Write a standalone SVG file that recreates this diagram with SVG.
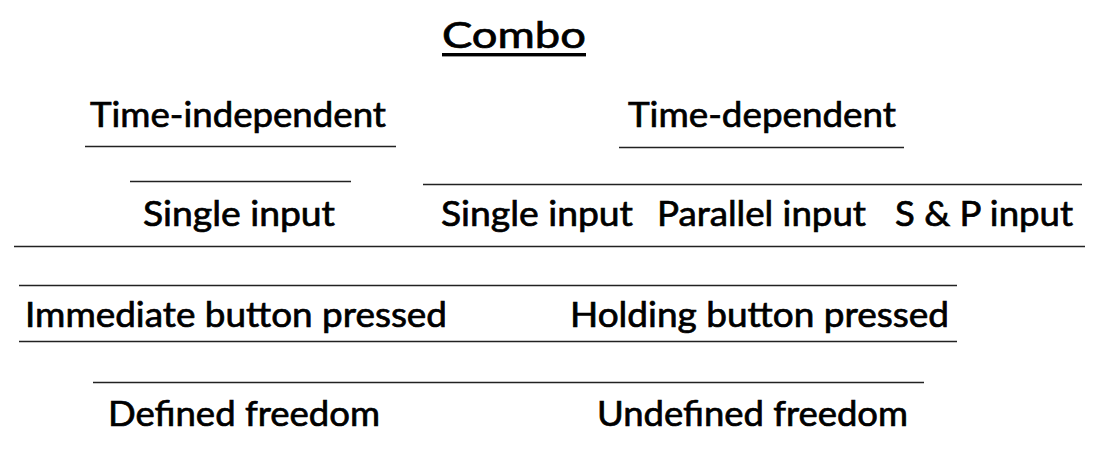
<svg xmlns="http://www.w3.org/2000/svg" width="1099" height="457" viewBox="0 0 1099 457">
<style>
.t{font-family:Lato,"Liberation Sans",sans-serif;font-size:35px;fill:#000;stroke:#000;stroke-width:0.7;}
.h{font-size:37px;}
.r{stroke:#222;stroke-width:1.4;fill:none;}
</style>
<rect width="1099" height="457" fill="#fff"/>
<g id="title">
<text class="t h" x="442" y="48" textLength="144" lengthAdjust="spacingAndGlyphs">Combo</text>
<rect x="442" y="53" width="144" height="3.4" fill="#000"/>
</g>
<g id="time-independent"><text class="t" x="90" y="127" textLength="296" lengthAdjust="spacingAndGlyphs">Time-independent</text></g>
<g id="time-dependent"><text class="t" x="628" y="127" textLength="268" lengthAdjust="spacingAndGlyphs">Time-dependent</text></g>
<g id="single-input-1"><text class="t" x="143" y="226" textLength="192" lengthAdjust="spacingAndGlyphs">Single input</text></g>
<g id="single-input-2"><text class="t" x="441" y="226" textLength="192" lengthAdjust="spacingAndGlyphs">Single input</text></g>
<g id="parallel-input"><text class="t" x="657" y="226" textLength="209" lengthAdjust="spacingAndGlyphs">Parallel input</text></g>
<g id="sp-input"><text class="t" x="895" y="226" textLength="178" lengthAdjust="spacingAndGlyphs">S &amp; P input</text></g>
<g id="immediate"><text class="t" x="25" y="327" textLength="422" lengthAdjust="spacingAndGlyphs">Immediate button pressed</text></g>
<g id="holding"><text class="t" x="570" y="327" textLength="379" lengthAdjust="spacingAndGlyphs">Holding button pressed</text></g>
<g id="defined"><text class="t" x="108" y="426" textLength="272" lengthAdjust="spacingAndGlyphs">Defined freedom</text></g>
<g id="undefined"><text class="t" x="597" y="426" textLength="311" lengthAdjust="spacingAndGlyphs">Undefined freedom</text></g>
<g id="connectors">
<line class="r" x1="85" y1="146.5" x2="396" y2="146.5"/>
<line class="r" x1="619" y1="147.5" x2="904" y2="147.5"/>
<line class="r" x1="130" y1="181.5" x2="351" y2="181.5"/>
<line class="r" x1="423" y1="184.5" x2="1082" y2="184.5"/>
<line class="r" x1="14" y1="246.5" x2="1085" y2="246.5"/>
<line class="r" x1="19" y1="285.5" x2="957" y2="285.5"/>
<line class="r" x1="19" y1="341.5" x2="957" y2="341.5"/>
<line class="r" x1="93" y1="382.5" x2="924" y2="382.5"/>
</g>
</svg>
